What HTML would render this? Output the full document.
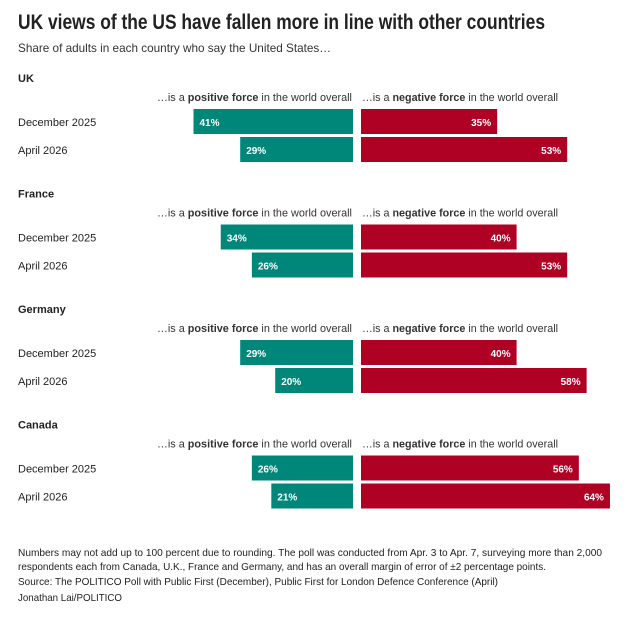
<!DOCTYPE html>
<html><head><meta charset="utf-8"><style>
html,body{margin:0;padding:0;background:#fff;}
svg{display:block;font-family:"Liberation Sans",sans-serif;}
</style></head><body>
<svg id="chart" width="634" height="618" viewBox="0 0 634 618" xmlns="http://www.w3.org/2000/svg">
<rect width="634" height="618" fill="#fff"/>
<text x="18" y="29" font-size="21" font-weight="bold" fill="#222" textLength="527" lengthAdjust="spacingAndGlyphs">UK views of the US have fallen more in line with other countries</text>
<text x="18" y="52" font-size="12" fill="#333" textLength="313" lengthAdjust="spacingAndGlyphs">Share of adults in each country who say the United States…</text>
<g id="groups"></g>
<g font-size="10.5" fill="#222">
<text x="18" y="556" textLength="584" lengthAdjust="spacingAndGlyphs">Numbers may not add up to 100 percent due to rounding. The poll was conducted from Apr. 3 to Apr. 7, surveying more than 2,000</text>
<text x="18" y="570" textLength="528" lengthAdjust="spacingAndGlyphs">respondents each from Canada, U.K., France and Germany, and has an overall margin of error of ±2 percentage points.</text>
<text x="18" y="585" textLength="480" lengthAdjust="spacingAndGlyphs">Source: The POLITICO Poll with Public First (December), Public First for London Defence Conference (April)</text>
<text x="18" y="601" textLength="104" lengthAdjust="spacingAndGlyphs">Jonathan Lai/POLITICO</text>
</g>
</svg>
<script>
const countries = ["UK","France","Germany","Canada"];
const periods = ["December 2025","April 2026"];
const positive = [[41,29],[34,26],[29,20],[26,21]];
const negative = [[35,53],[40,53],[40,58],[56,64]];

const NS="http://www.w3.org/2000/svg";
const g=document.getElementById('groups');
const center=357, pxPer=3.89;
function xPos(v){return center-4-v*pxPer;}
function xNeg(v){return center+4+v*pxPer;}
function mk(tag,attrs,txt){const e=document.createElementNS(NS,tag);for(const k in attrs)e.setAttribute(k,attrs[k]);if(txt!==undefined)e.textContent=txt;return e;}
countries.forEach((c,i)=>{
  const top=i*115.5;
  const t=mk('text',{x:18,y:82+top,'font-size':11,'font-weight':'bold',fill:'#222'},c);
  
  
  g.appendChild(t);
  const hp=mk('text',{x:157,y:101+top,'font-size':11,fill:'#333',textLength:195,lengthAdjust:'spacingAndGlyphs'});
  hp.innerHTML='…is a <tspan font-weight="bold">positive force</tspan> in the world overall';
  
  
  g.appendChild(hp);
  const hn=mk('text',{x:center+5,y:101+top,'font-size':11,fill:'#333',textLength:196,lengthAdjust:'spacingAndGlyphs'});
  hn.innerHTML='…is a <tspan font-weight="bold">negative force</tspan> in the world overall';
  
  
  g.appendChild(hn);
  periods.forEach((p,j)=>{
    const ly=122+top+j*28;
    const pl=mk('text',{x:18,y:ly+4,'font-size':11,fill:'#222'},p);
    
    
    g.appendChild(pl);
    const pv=positive[i][j], nv=negative[i][j];
    const x0=xPos(pv);
    const rb=mk('rect',{x:x0,y:ly-13,width:center-4-x0,height:25,fill:'#00877a'});
    
    
    g.appendChild(rb);
    const rt=mk('text',{x:x0+6,y:ly+4,'font-size':10,'font-weight':'bold',fill:'#fff'},pv+'%');
    
    
    g.appendChild(rt);
    const x1=xNeg(nv);
    const nb=mk('rect',{x:center+4,y:ly-13,width:x1-center-4,height:25,fill:'#ae0124'});
    
    
    g.appendChild(nb);
    const nt=mk('text',{x:x1-6,y:ly+4,'font-size':10,'font-weight':'bold',fill:'#fff','text-anchor':'end'},nv+'%');
    
    
    g.appendChild(nt);
  });
});
</script>
</body></html>
